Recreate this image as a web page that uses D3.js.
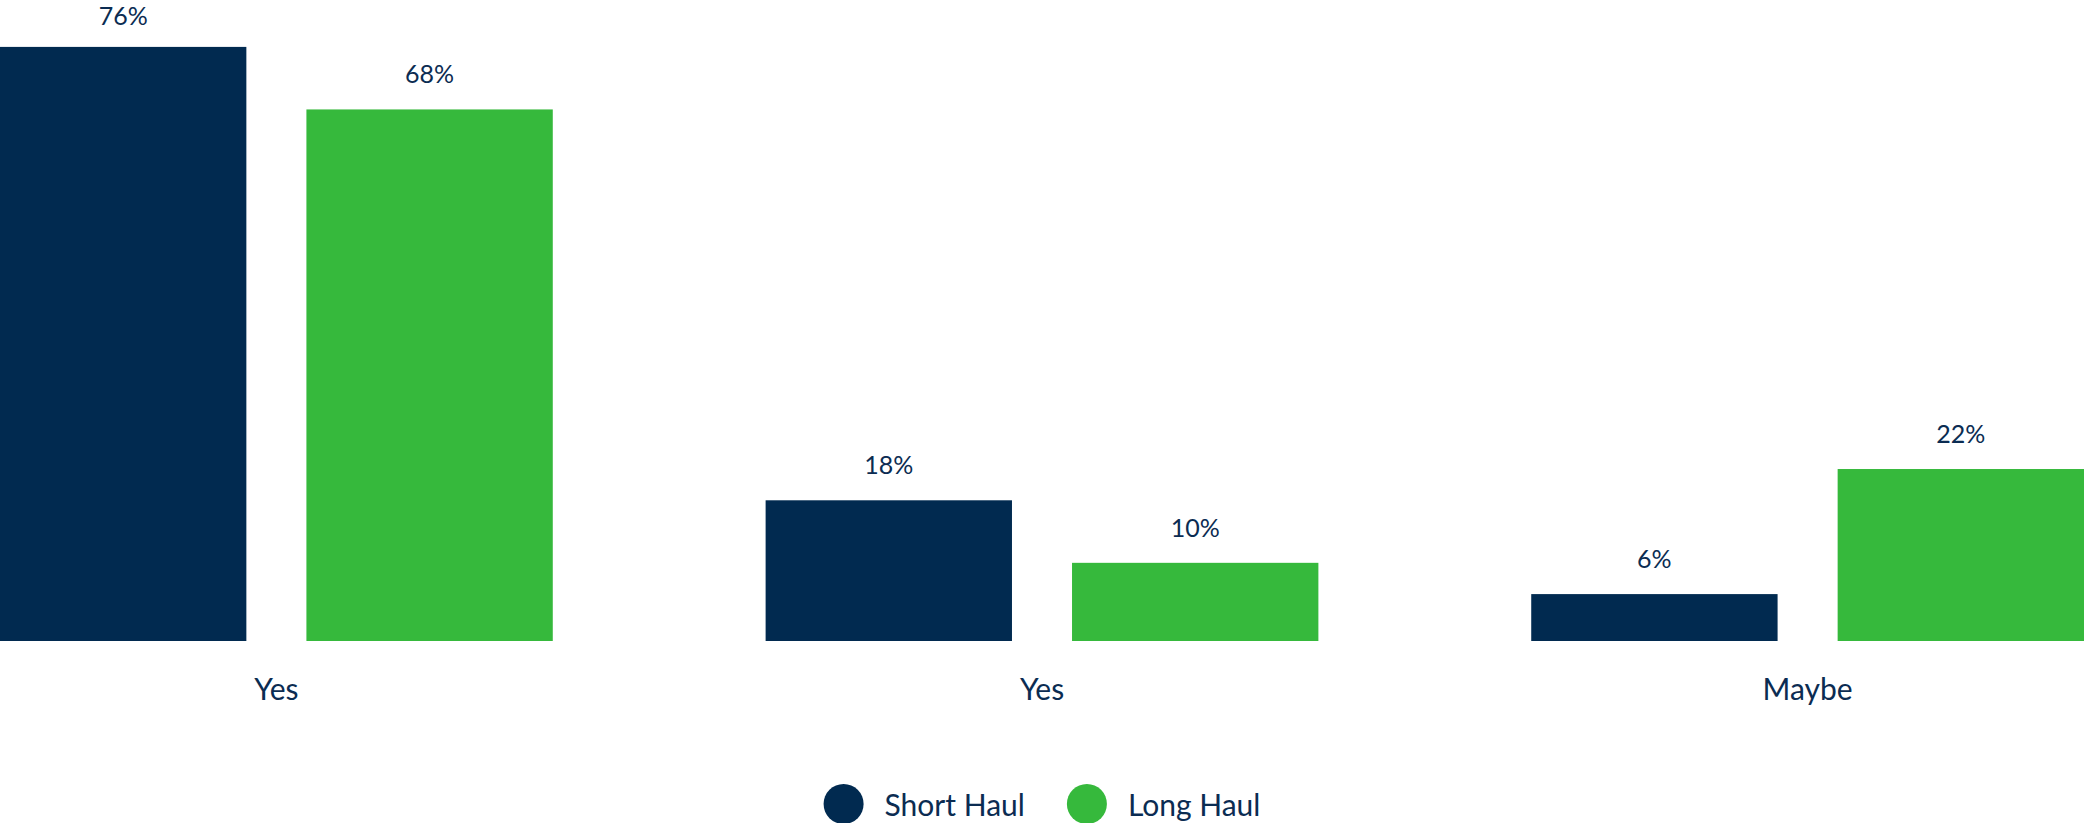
<!DOCTYPE html>
<html>
<head>
<meta charset="utf-8">
<script src="https://cdn.jsdelivr.net/npm/d3@7"></script>
<style>
  html, body { margin: 0; padding: 0; background: #ffffff; }
  svg { display: block; }
  text { font-family: Lato, "Source Sans Pro", "Noto Sans", sans-serif; fill: #0b2c52; }
</style>
</head>
<body>
<svg id="chart" width="2084" height="823"></svg>
<script>
const categories = ["Yes", "Yes ", "Maybe"];
const categoryLabels = ["Yes", "Yes", "Maybe"];
const seriesNames = ["Short Haul", "Long Haul"];
const shortHaul = [76, 18, 6];
const longHaul = [68, 10, 22];
const seriesColors = ["#012a50", "#36b93c"];

const W = 2084, H = 823;
const svg = d3.select("#chart");

const baseline = 641;
const x0 = d3.scaleBand().domain(categories).range([0, W]).paddingInner(0.278).paddingOuter(0);
const x1 = d3.scaleBand().domain(seriesNames).range([0, x0.bandwidth()]).paddingInner(0.196).paddingOuter(0);
const y = d3.scaleLinear().domain([0, 82]).range([baseline, 0]);
const color = d3.scaleOrdinal().domain(seriesNames).range(seriesColors);

const rows = categories.map((c, i) => ({
  cat: c,
  label: categoryLabels[i],
  values: [
    { key: seriesNames[0], value: shortHaul[i] },
    { key: seriesNames[1], value: longHaul[i] }
  ]
}));

const groups = svg.append("g").selectAll("g.grp")
  .data(rows).join("g")
  .attr("class", "grp")
  .attr("transform", d => `translate(${x0(d.cat)},0)`);

groups.selectAll("rect")
  .data(d => d.values).join("rect")
  .attr("x", d => x1(d.key))
  .attr("y", d => y(d.value))
  .attr("width", x1.bandwidth())
  .attr("height", d => baseline - y(d.value))
  .attr("fill", d => color(d.key));

groups.selectAll("text.val")
  .data(d => d.values).join("text")
  .attr("class", "val")
  .attr("x", d => x1(d.key) + x1.bandwidth() / 2)
  .attr("y", d => Math.max(y(d.value) - 26, 25))
  .attr("text-anchor", "middle")
  .style("font-size", "25px")
  .text(d => d.value + "%");

// category axis labels
const xAxis = d3.axisBottom(x0).tickSize(0).tickFormat((d, i) => categoryLabels[i]);
const axG = svg.append("g").attr("transform", `translate(0,${baseline})`).call(xAxis);
axG.select(".domain").remove();
axG.selectAll("text")
  .attr("y", 59)
  .attr("dy", 0)
  .style("font-size", "30px")
  .style("font-family", "Lato, sans-serif")
  .attr("fill", "#0b2c52");

// legend
const legend = svg.append("g").attr("class", "legend");
const items = legend.selectAll("g").data(seriesNames).join("g");
items.append("circle").attr("r", 20).attr("cx", 20).attr("cy", 0).attr("fill", d => color(d));
items.append("text").attr("x", 61).attr("y", 12).style("font-size", "30px").text(d => d);
let off = 0;
items.each(function() {
  const w = this.getBBox().width;
  d3.select(this).attr("transform", `translate(${off},0)`);
  off += w + 42;
});
const totalW = off - 42;
legend.attr("transform", `translate(${(W - totalW) / 2},804)`);
</script>
</body>
</html>
